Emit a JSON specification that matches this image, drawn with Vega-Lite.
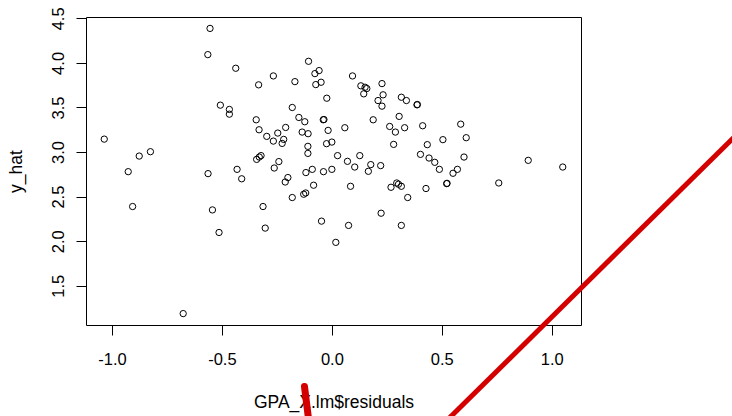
{
  "$schema": "https://vega.github.io/schema/vega-lite/v6.json",
  "width": 495,
  "height": 308,
  "autosize": {"type": "none"},
  "padding": {"left": 86, "top": 17, "right": 151, "bottom": 91},
  "background": "white",
  "config": {
    "view": {"stroke": "black", "strokeWidth": 1},
    "font": "Liberation Sans",
    "axis": {
      "grid": false,
      "domain": false,
      "tickColor": "black",
      "tickSize": 10,
      "tickWidth": 1,
      "labelFont": "Liberation Sans",
      "labelFontSize": 16.5,
      "labelColor": "black",
      "titleFont": "Liberation Sans",
      "titleFontSize": 17.5,
      "titleFontWeight": "normal",
      "titleColor": "black"
    }
  },
  "datasets": {
    "pts": [
      {"x": -0.554, "y": 4.387}, {"x": -0.564, "y": 4.093}, {"x": -0.437, "y": 3.94}, {"x": -1.035, "y": 3.145},
      {"x": -0.876, "y": 2.955}, {"x": -0.825, "y": 3.004}, {"x": -0.926, "y": 2.78}, {"x": -0.507, "y": 3.526},
      {"x": -0.466, "y": 3.478}, {"x": -0.466, "y": 3.425}, {"x": -0.344, "y": 3.362}, {"x": -0.331, "y": 3.25},
      {"x": -0.333, "y": 3.754}, {"x": -0.266, "y": 3.854}, {"x": -0.168, "y": 3.79}, {"x": -0.106, "y": 4.018},
      {"x": -0.077, "y": 3.88}, {"x": -0.058, "y": 3.914}, {"x": -0.073, "y": 3.757}, {"x": -0.049, "y": 3.783},
      {"x": -0.023, "y": 3.604}, {"x": -0.18, "y": 3.5}, {"x": -0.15, "y": 3.388}, {"x": -0.123, "y": 3.34},
      {"x": -0.039, "y": 3.362}, {"x": -0.036, "y": 3.365}, {"x": -0.017, "y": 3.243}, {"x": -0.296, "y": 3.176},
      {"x": -0.266, "y": 3.123}, {"x": -0.246, "y": 3.213}, {"x": -0.219, "y": 3.142}, {"x": -0.226, "y": 3.097},
      {"x": -0.21, "y": 3.276}, {"x": -0.135, "y": 3.224}, {"x": -0.108, "y": 3.206}, {"x": -0.109, "y": 3.064},
      {"x": -0.109, "y": 2.985}, {"x": -0.024, "y": 3.094}, {"x": 0.0, "y": 3.112}, {"x": -0.342, "y": 2.918},
      {"x": -0.33, "y": 2.944}, {"x": -0.322, "y": 2.96}, {"x": -0.563, "y": 2.758}, {"x": -0.431, "y": 2.806},
      {"x": -0.41, "y": 2.7}, {"x": -0.262, "y": 2.821}, {"x": -0.241, "y": 2.893}, {"x": -0.2, "y": 2.714},
      {"x": -0.212, "y": 2.664}, {"x": -0.118, "y": 2.77}, {"x": -0.089, "y": 2.806}, {"x": -0.038, "y": 2.78},
      {"x": 0.0, "y": 2.806}, {"x": 0.059, "y": 3.273}, {"x": 0.094, "y": 3.854}, {"x": 0.132, "y": 3.743},
      {"x": 0.151, "y": 3.727}, {"x": 0.159, "y": 3.713}, {"x": 0.145, "y": 3.653}, {"x": 0.228, "y": 3.768},
      {"x": 0.233, "y": 3.642}, {"x": 0.21, "y": 3.578}, {"x": 0.228, "y": 3.515}, {"x": 0.316, "y": 3.615},
      {"x": 0.339, "y": 3.578}, {"x": 0.387, "y": 3.53}, {"x": 0.389, "y": 3.533}, {"x": 0.188, "y": 3.362},
      {"x": 0.306, "y": 3.4}, {"x": 0.263, "y": 3.287}, {"x": 0.289, "y": 3.224}, {"x": 0.331, "y": 3.273},
      {"x": 0.413, "y": 3.295}, {"x": 0.586, "y": 3.313}, {"x": 0.611, "y": 3.161}, {"x": 0.281, "y": 3.086},
      {"x": 0.505, "y": 3.139}, {"x": 0.434, "y": 3.083}, {"x": 0.601, "y": 2.944}, {"x": 0.026, "y": 2.96},
      {"x": 0.071, "y": 2.896}, {"x": 0.104, "y": 2.832}, {"x": 0.127, "y": 2.96}, {"x": 0.177, "y": 2.859},
      {"x": 0.166, "y": 2.784}, {"x": 0.222, "y": 2.848}, {"x": 0.403, "y": 2.974}, {"x": 0.442, "y": 2.933},
      {"x": 0.468, "y": 2.885}, {"x": 0.489, "y": 2.806}, {"x": 0.551, "y": 2.762}, {"x": 0.571, "y": 2.806},
      {"x": 0.893, "y": 2.907}, {"x": 1.05, "y": 2.832}, {"x": -0.128, "y": 2.527}, {"x": -0.119, "y": 2.541},
      {"x": -0.083, "y": 2.628}, {"x": 0.085, "y": 2.616}, {"x": -0.047, "y": 2.225}, {"x": 0.076, "y": 2.177},
      {"x": 0.018, "y": 1.987}, {"x": 0.224, "y": 2.314}, {"x": 0.269, "y": 2.605}, {"x": 0.295, "y": 2.653},
      {"x": 0.303, "y": 2.639}, {"x": 0.316, "y": 2.616}, {"x": 0.345, "y": 2.49}, {"x": 0.316, "y": 2.177},
      {"x": 0.428, "y": 2.591}, {"x": 0.522, "y": 2.646}, {"x": 0.524, "y": 2.649}, {"x": 0.759, "y": 2.653},
      {"x": -0.906, "y": 2.389}, {"x": -0.543, "y": 2.351}, {"x": -0.513, "y": 2.098}, {"x": -0.313, "y": 2.389},
      {"x": -0.303, "y": 2.147}, {"x": -0.18, "y": 2.49}, {"x": -0.676, "y": 1.188}
    ],
    "redline": [
      {"x": 1.875, "y": 3.279},
      {"x": 0.504, "y": -0.057}
    ],
    "blob": [
      {"x": -0.1245, "y": 0.37},
      {"x": -0.1067, "y": 0.02}
    ]
  },
  "encoding": {
    "x": {
      "field": "x",
      "type": "quantitative",
      "scale": {"domain": [-1.118, 1.133], "nice": false, "zero": false},
      "axis": {
        "values": [-1, -0.5, 0, 0.5, 1],
        "format": ".1f",
        "labelExpr": "replace(datum.label, '−', '-')",
        "labelPadding": 16,
        "title": "GPA_X.lm$residuals",
        "titleX": 247.5,
        "titleY": 82,
        "titleAlign": "center",
        "titleBaseline": "alphabetic"
      }
    },
    "y": {
      "field": "y",
      "type": "quantitative",
      "scale": {"domain": [1.06, 4.515], "nice": false, "zero": false},
      "axis": {
        "values": [1.5, 2, 2.5, 3, 3.5, 4, 4.5],
        "format": ".1f",
        "labelAngle": -90,
        "labelAlign": "center",
        "labelBaseline": "alphabetic",
        "labelPadding": 13,
        "title": "y_hat",
        "titleAngle": -90,
        "titleX": -65,
        "titleY": 154,
        "titleAlign": "center",
        "titleBaseline": "alphabetic"
      }
    }
  },
  "layer": [
    {
      "data": {"name": "pts"},
      "mark": {"type": "point", "shape": "circle", "filled": false, "size": 40, "strokeWidth": 1, "color": "black", "opacity": 1}
    },
    {
      "data": {"name": "redline"},
      "mark": {"type": "line", "color": "#d40000", "strokeWidth": 5, "clip": false}
    },
    {
      "data": {"name": "blob"},
      "mark": {"type": "line", "color": "#d40000", "strokeWidth": 7, "strokeCap": "round", "clip": false}
    }
  ]
}
